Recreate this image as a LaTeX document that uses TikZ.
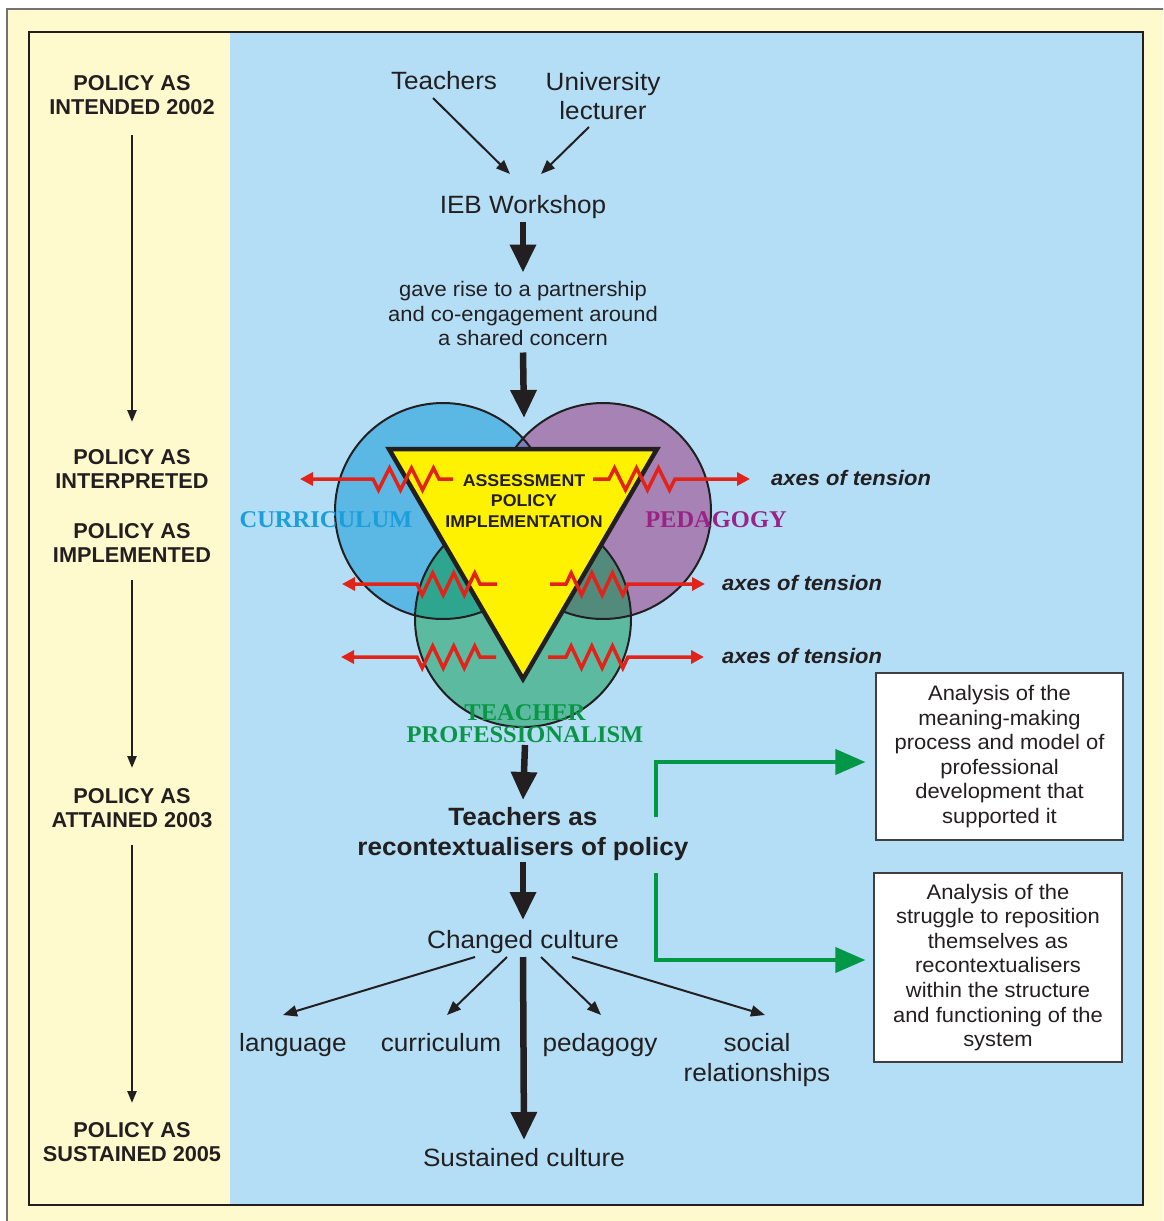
\documentclass[tikz,border=0pt]{standalone}
\usepackage{fontspec}
\setmainfont[FakeStretch=1.045]{Liberation Sans}
\newfontfamily\stagefont[FakeStretch=1.01]{Liberation Sans}
\newfontfamily\labelserif[FakeStretch=1.02]{Liberation Serif}
\usetikzlibrary{arrows.meta,calc}

\definecolor{paper}{RGB}{255,250,205}
\definecolor{sky}{RGB}{179,222,246}
\definecolor{ink}{RGB}{35,31,32}
\definecolor{cblue}{RGB}{91,183,228}
\definecolor{cpurple}{RGB}{166,130,181}
\definecolor{cgreen}{RGB}{91,186,160}
\definecolor{cbluegreen}{RGB}{46,166,143}
\definecolor{cpurplegreen}{RGB}{82,138,124}
\definecolor{cbluepurple}{RGB}{123,127,190}
\definecolor{tri}{RGB}{255,242,0}
\definecolor{tension}{RGB}{226,35,26}
\definecolor{link}{RGB}{0,152,70}
\definecolor{currtxt}{RGB}{27,158,218}
\definecolor{pedtxt}{RGB}{155,35,135}
\definecolor{proftxt}{RGB}{10,150,70}

\newcommand{\fsz}[2]{\fontsize{#1}{#2}\selectfont}
% zigzag of three periods from x=#1 to x=#2 on the line y=#3
\newcommand{\zigpath}[3]{%
  -- ({#1+(#2-#1)/12},{#3-11}) -- ({#1+3*(#2-#1)/12},{#3+11})
  -- ({#1+5*(#2-#1)/12},{#3-11}) -- ({#1+7*(#2-#1)/12},{#3+11})
  -- ({#1+9*(#2-#1)/12},{#3-11}) -- ({#1+11*(#2-#1)/12},{#3+11}) -- (#2,#3)}
% one axis of tension: y, left tip, left zigzag (outer, inner), left end,
% right end, right zigzag (inner, outer), right tip
\newcommand{\tensionrow}[9]{%
  \draw[tensiontip] (#5,#1) -- (#4,#1) \zigpath{#4}{#3}{#1} -- (#2,#1);
  \draw[tensiontip] (#6,#1) -- (#7,#1) \zigpath{#7}{#8}{#1} -- (#9,#1);
}

\begin{document}
\begin{tikzpicture}[x=1pt,y=-1pt,
  every node/.style={text=ink, inner sep=0pt, align=center},
  stage/.style={font=\stagefont\fsz{21.5}{24}\bfseries},
  main/.style={font=\fsz{25}{29}},
  small/.style={font=\fsz{21}{24.5}},
  boxtext/.style={font=\fsz{21}{24.6}, draw=black!75, line width=1.2pt, fill=white},
  axes/.style={font=\fsz{21}{24}\bfseries\itshape, anchor=west},
  venn/.style={font=\fsz{24}{22}\labelserif\bfseries},
  timeline/.style={draw=ink, line width=2.5pt, -{Triangle[width=9pt,length=12pt]}},
  thinarrow/.style={draw=ink, line width=2pt, -{Triangle[width=11pt,length=14pt]}},
  fatarrow/.style={draw=ink, line width=6.5pt, -{Triangle[width=25pt,length=28pt]}},
  linkarrow/.style={draw=link, line width=4pt, -{Triangle[width=25pt,length=30pt]}},
  tensiontip/.style={draw=tension, line width=3.5pt, -{Triangle[width=13pt,length=13pt]}},
  ring/.style={draw=ink, line width=2pt}
]
\useasboundingbox (0,0) rectangle (1163,1221);
\clip (0,0) rectangle (1163,1221);

% page, outer and inner frames
\fill[white] (0,0) rectangle (1163,1221);
\filldraw[fill=paper, draw=black!55, line width=1.5pt] (7,9) rectangle (1180,1240);
\fill[sky] (230,32) rectangle (1143,1205);
\draw[ink, line width=2.5pt] (29,32) rectangle (1143,1205);

% stages of policy (left column)
\node[stage] (intended) at (132,95) {POLICY AS\\INTENDED 2002};
\node[stage] (interpreted) at (132,469) {POLICY AS\\INTERPRETED};
\node[stage] (implemented) at (132,543) {POLICY AS\\IMPLEMENTED};
\node[stage] (attained) at (132,808) {POLICY AS\\ATTAINED 2003};
\node[stage] (sust05) at (132,1142) {POLICY AS\\SUSTAINED 2005};
\draw[timeline] ($(intended)+(0,40)$) -- ($(interpreted)+(0,-47)$);
\draw[timeline] ($(implemented)+(0,37)$) -- ($(attained)+(0,-40)$);
\draw[timeline] ($(attained)+(0,37)$) -- ($(sust05)+(0,-39)$);

% the workshop
\node[main] (teachers) at (444,81) {Teachers};
\node[main] (univ) at (603,96) {University\\lecturer};
\node[main] (ieb) at (523,207) {IEB Workshop};
\node[small] (gave) at (523,313.5) {gave rise to a partnership\\and co-engagement around\\a shared concern};
\draw[thinarrow] ($(teachers)+(-11,17)$) -- ($(ieb)+(-13,-33)$);
\draw[thinarrow] ($(univ)+(-14,31)$) -- ($(ieb)+(18,-33)$);
\draw[fatarrow] ($(ieb)+(0,15)$) -- ($(gave)+(0,-41)$);

% three overlapping domains
\fill[cblue] (443,511) circle (108pt);
\fill[cpurple] (603,511) circle (108pt);
\fill[cgreen] (523,619) circle (108pt);
\begin{scope}
  \clip (443,511) circle (108pt);
  \fill[cbluegreen] (523,619) circle (108pt);
  \fill[cbluepurple] (603,511) circle (108pt);
\end{scope}
\begin{scope}
  \clip (603,511) circle (108pt);
  \fill[cpurplegreen] (523,619) circle (108pt);
\end{scope}
\draw[ring] (443,511) circle (108pt);
\draw[ring] (603,511) circle (108pt);
\draw[ring] (523,619) circle (108pt);

% assessment policy triangle
\filldraw[fill=tri, draw=ink, line width=4.5pt, line join=miter]
  (389,449) -- (657,449) -- (523,679) -- cycle;
\node[font=\fsz{17}{20.5}\bfseries] (apm) at (524,501) {ASSESSMENT\\POLICY\\IMPLEMENTATION};
\draw[fatarrow] ($(gave)+(0,39)$) -- ($(apm)+(0,-83)$);

% axes of tension
\tensionrow{479}{300}{373}{439}{453}{593}{609}{675}{750}
\tensionrow{584}{342}{417}{480}{497}{550}{566}{628}{705}
\tensionrow{657}{341}{417}{480}{496}{548}{566}{628}{704}
\node[axes] (ax1) at (771,478) {axes of tension};
\node[axes] (ax2) at (722,583) {axes of tension};
\node[axes] (ax3) at (722,656) {axes of tension};

% domain labels
\node[venn, text=currtxt] (curlabel) at (326,520) {CURRICULUM};
\node[venn, text=pedtxt] (pedlabel) at (716,520) {PEDAGOGY};
\node[venn, text=proftxt] (prof) at (525,724) {TEACHER\\PROFESSIONALISM};

% outcomes
\node[main, font=\fsz{25}{30}\bfseries] (recon) at (523,834) {Teachers as\\recontextualisers of policy};
\node[main] (changed) at (523,942) {Changed culture};
\node[main] (sustained) at (524,1158) {Sustained culture};
\node[main] (language) at (293,1045) {language};
\node[main] (curric) at (441,1043) {curriculum};
\node[main] (pedag) at (600,1045) {pedagogy};
\node[main, font=\fsz{25}{30}] (social) at (757,1060) {social\\relationships};
\draw[fatarrow] ($(prof)+(0,21)$) -- ($(recon)+(0,-34)$);
\draw[fatarrow] ($(recon)+(0,28)$) -- ($(changed)+(0,-22)$);
\draw[fatarrow] ($(changed)+(0,15)$) -- ($(sustained)+(0,-18)$);
\draw[thinarrow] ($(changed)+(-48,15)$) -- ($(language)+(-10,-30)$);
\draw[thinarrow] ($(changed)+(-16,15)$) -- ($(curric)+(6,-28)$);
\draw[thinarrow] ($(changed)+(18,15)$) -- ($(pedag)+(1,-30)$);
\draw[thinarrow] ($(changed)+(49,15)$) -- ($(social)+(8,-45)$);

% analyses
\node[boxtext, minimum width=247pt, minimum height=167pt] (box1) at (999.5,756.5)
  {Analysis of the\\meaning-making\\process and model of\\professional\\development that\\supported it};
\node[boxtext, minimum width=248pt, minimum height=189pt] (box2) at (998,967.5)
  {Analysis of the\\struggle to reposition\\themselves as\\recontextualisers\\within the structure\\and functioning of the\\system};
\draw[linkarrow] ($(recon)+(133,-17)$) |- ($(box1.west)+(-10,5.5)$);
\draw[linkarrow] ($(recon)+(133,39)$) |- ($(box2.west)+(-8,-7.5)$);
\end{tikzpicture}
\end{document}
